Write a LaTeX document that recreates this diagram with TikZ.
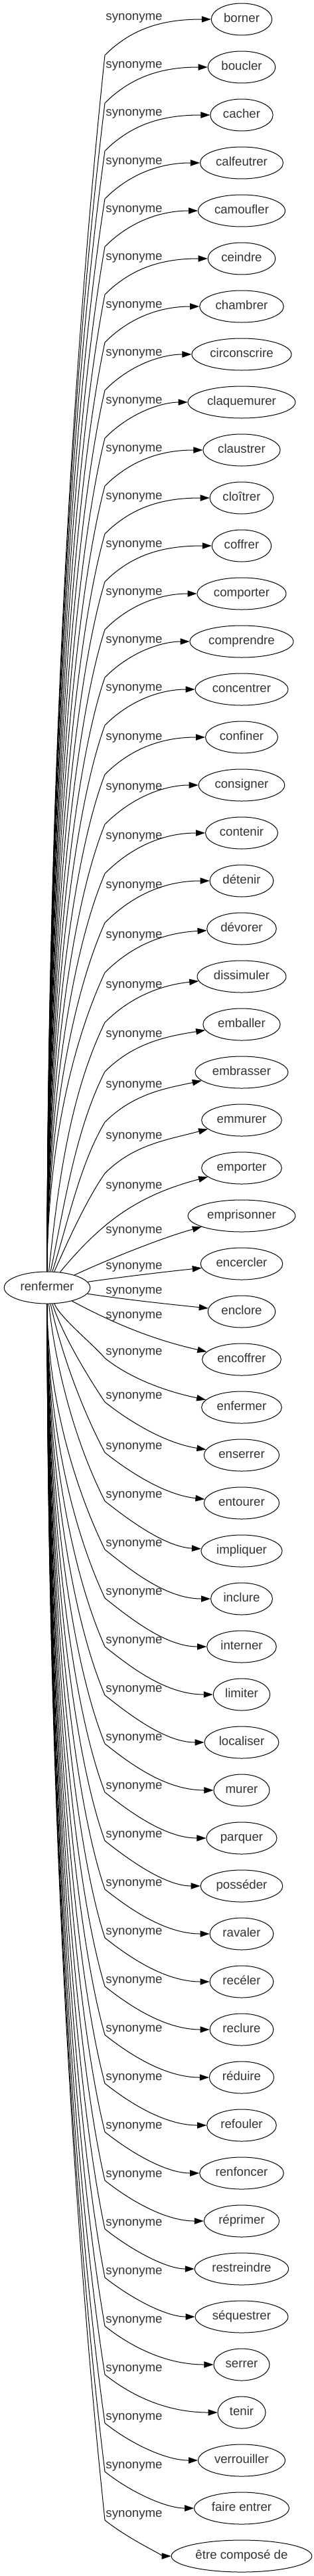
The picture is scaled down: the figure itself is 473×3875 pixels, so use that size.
\documentclass[tikz,border=0pt]{standalone}
\usepackage{fontspec}
\setmainfont{Liberation Sans}
\usetikzlibrary{arrows.meta,shapes.geometric}
\tikzset{
    word/.style = {draw, ellipse, line width=0.75pt, text=black!80, minimum width=54pt, minimum height=36pt, inner xsep=4pt, inner ysep=2pt, text height=10pt, text depth=3pt, font=\fontsize{14pt}{17pt}\selectfont},
    tag/.style = {inner sep=0pt, anchor=base, text=black!80, font=\fontsize{14pt}{17pt}\selectfont},
    link/.style = {line width=0.75pt, -{Triangle[length=10.5pt, width=7pt]}},
}
\begin{document}
\begin{tikzpicture}[x=0.75pt, y=0.75pt]
\path[fill=white] (0,0) rectangle (473,-3875);
\node[word] (root) at (71,-1937) {renfermer};
\foreach \word/\ly [count=\i] in {borner/28, boucler/100, cacher/172, calfeutrer/244, camoufler/316, ceindre/388, chambrer/460, circonscrire/532, claquemurer/604, claustrer/676, cloîtrer/748, coffrer/820, comporter/892, comprendre/964, concentrer/1036, confiner/1110, consigner/1185, contenir/1259, détenir/1333, dévorer/1408, dissimuler/1483, emballer/1557, embrasser/1633, emmurer/1710, emporter/1785, emprisonner/1852, encercler/1906, enclore/1943, encoffrer/1980, enfermer/2035, enserrer/2101, entourer/2177, impliquer/2250, inclure/2323, interner/2396, limiter/2469, localiser/2542, murer/2615, parquer/2688, posséder/2761, ravaler/2834, recéler/2907, reclure/2980, réduire/3053, refouler/3126, renfoncer/3199, réprimer/3272, restreindre/3345, séquestrer/3418, serrer/3491, tenir/3564, verrouiller/3637, faire entrer/3710, être composé de/3783}{
    \pgfmathsetmacro\ty{29+72*(\i-1)}
    \node[word] (w\i) at (364,-\ty) {\word};
    \node[tag] (s\i) at (202,{-\ly-3}) {synonyme};
    \ifnum\i<25
        \pgfmathsetmacro\reach{0.33*(1858-\ly)}
        \pgfmathsetmacro\go{90-6*max(0,\i-20)}
        \pgfmathsetmacro\lean{85-\i-3*max(0,\i-22)}
        \pgfmathsetmacro\hook{min(\reach,60/cos(\lean))}
        \coordinate (b\i) at (158,{-\ly-55});
        \draw[link] (root) .. controls ({71+(24+\reach)*cos(\go)},{-1937+(24+\reach)*sin(\go)}) and ({158-\hook*cos(\lean)},{-\ly-55-\hook*sin(\lean)}) .. (b\i)
            .. controls (201,{-\ly-12}) and (250,{-\ty-6*max(0,\i-19)}) .. (w\i);
    \fi
    \ifnum\i>29
        \pgfmathsetmacro\reach{0.33*(\ly-1953)}
        \pgfmathsetmacro\go{-90+6*max(0,34-\i)}
        \pgfmathsetmacro\lean{30+\i-5*max(0,32-\i)}
        \pgfmathsetmacro\hook{min(\reach,60/cos(\lean))}
        \coordinate (b\i) at (158,{-\ly-8});
        \draw[link] (root) .. controls ({71+(24+\reach)*cos(\go)},{-1937+(24+\reach)*sin(\go)}) and ({158-\hook*cos(\lean)},{-\ly-8+\hook*sin(\lean)}) .. (b\i)
            .. controls (197,{-\ly-39}) and (250,{-\ty+6*max(0,34-\i)}) .. (w\i);
    \fi
}
\draw[link] (root) .. controls (154,-1837) and (208,-1798) .. (w25);
\draw[link] (root) .. controls (166,-1893) and (247,-1861) .. (w26);
\draw[link] (root) .. controls (190,-1920) and (250,-1913) .. (w27);
\draw[link] (root) .. controls (190,-1955) and (255,-1962) .. (w28);
\draw[link] (root) .. controls (168,-1989) and (229,-2015) .. (w29);
\end{tikzpicture}
\end{document}
